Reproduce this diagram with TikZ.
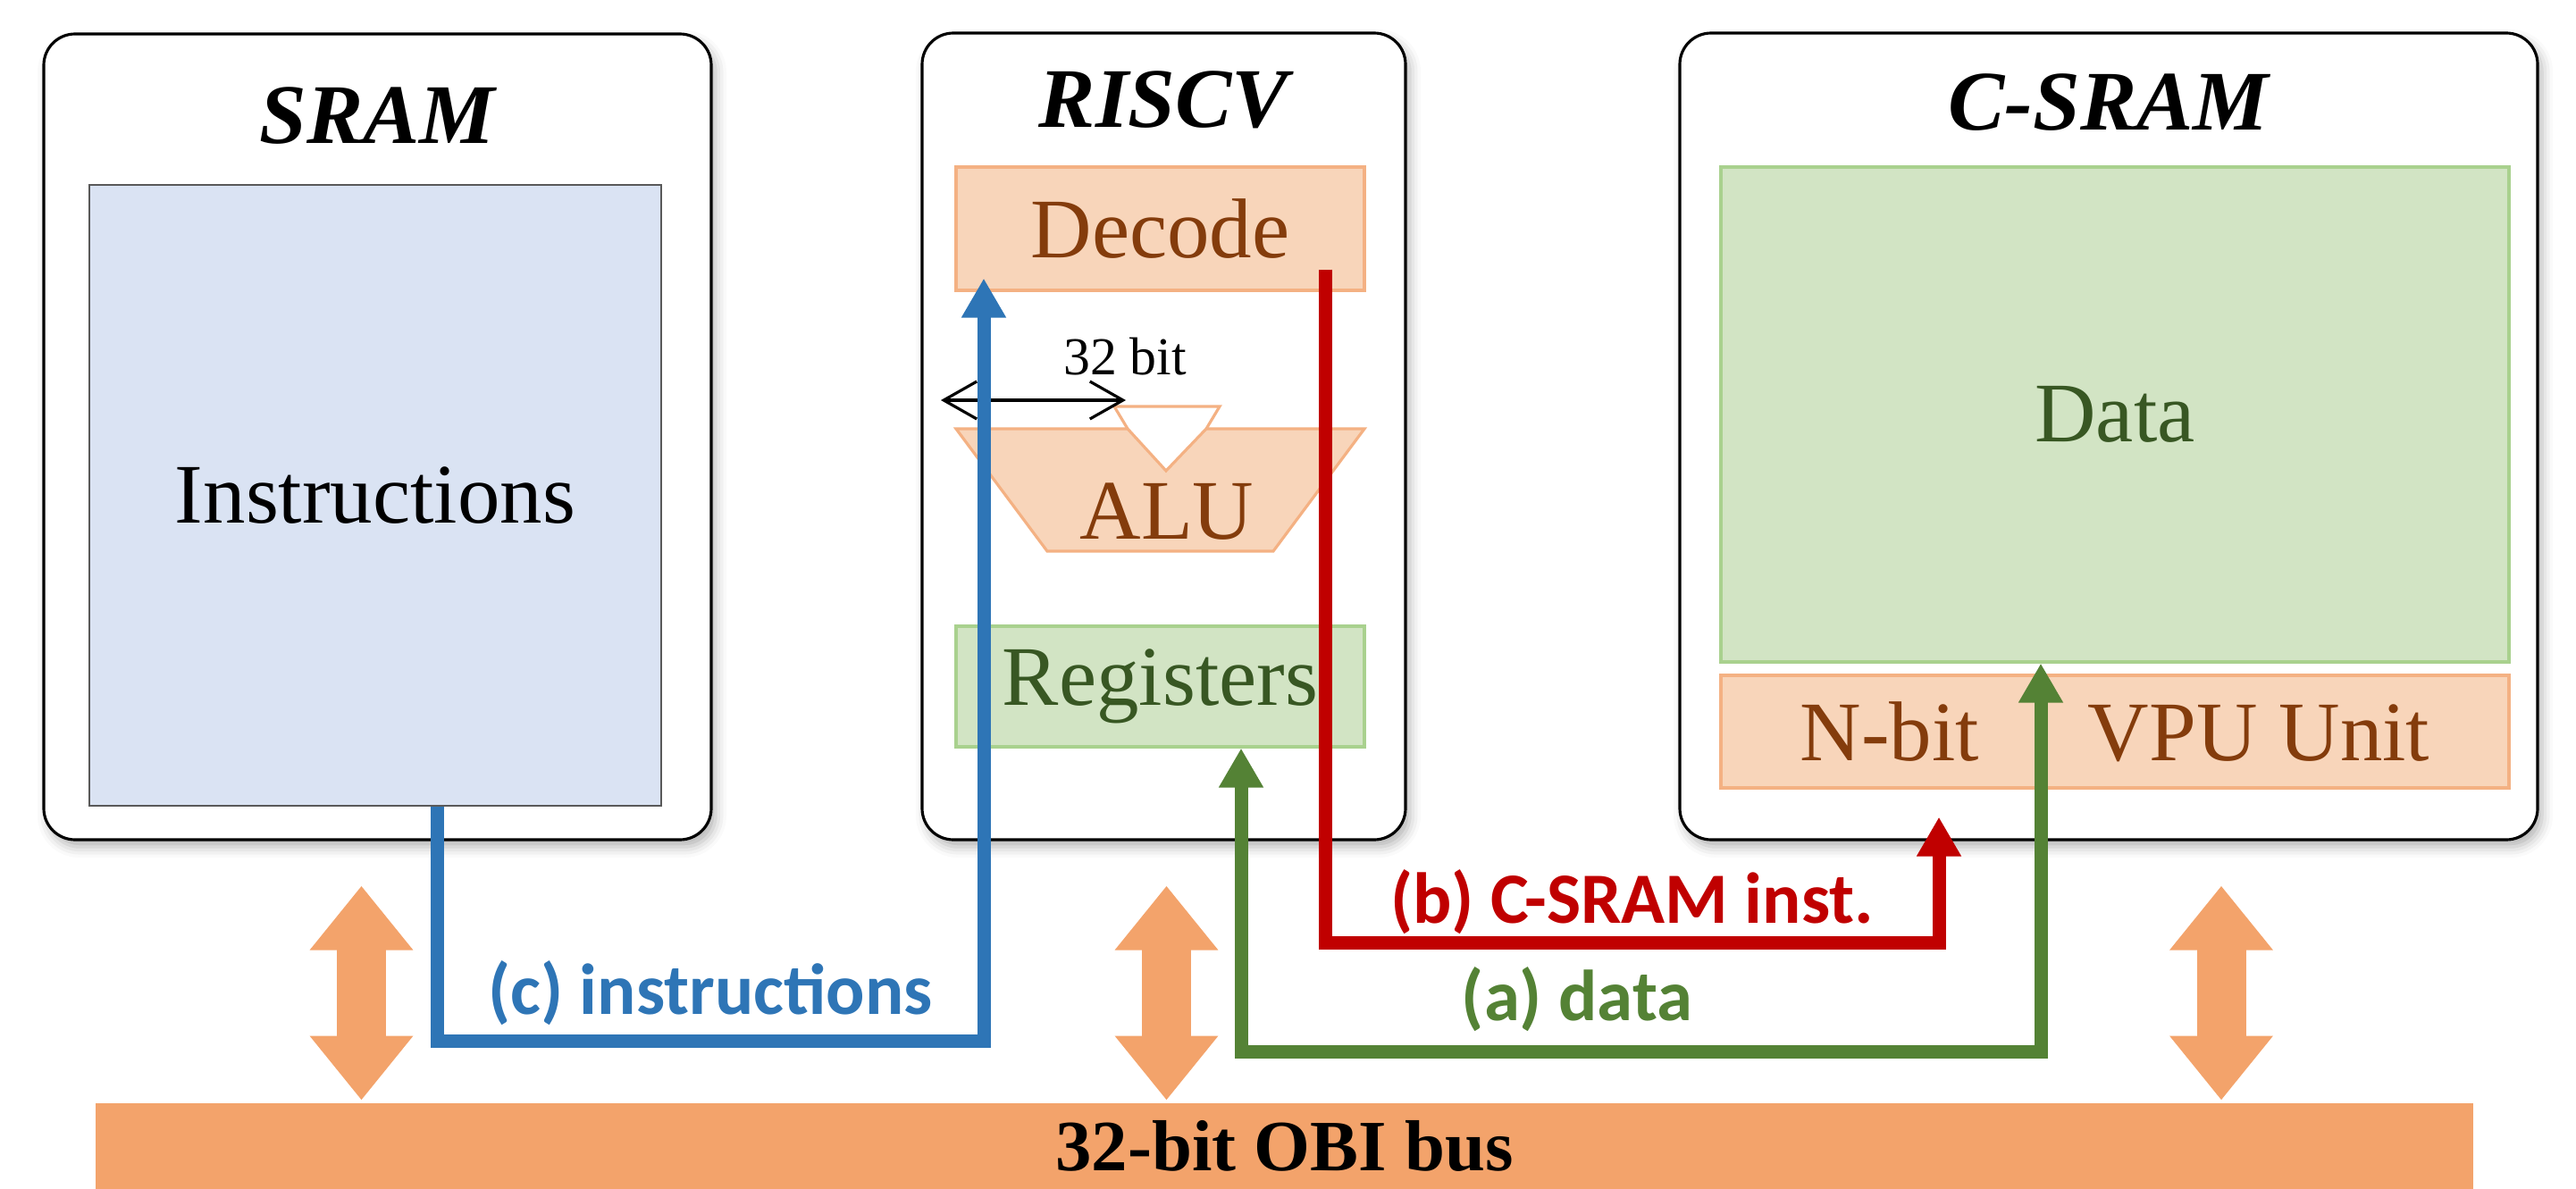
\documentclass[tikz,border=0pt]{standalone}
\usepackage{fontspec}
\setmainfont{Liberation Serif}
\newfontfamily\labelfont{Carlito}
\usepackage{xcolor}
\usepackage{tikz}
\usetikzlibrary{positioning, arrows.meta, shadows.blur}
\definecolor{BusOrange}{RGB}{243,163,107}
\definecolor{PeachFill}{RGB}{248,213,186}
\definecolor{PeachLine}{RGB}{244,177,131}
\definecolor{PeachText}{RGB}{132,60,12}
\definecolor{MintFill}{RGB}{210,228,196}
\definecolor{MintLine}{RGB}{169,209,142}
\definecolor{MintText}{RGB}{56,87,35}
\definecolor{SkyFill}{RGB}{218,227,243}
\definecolor{SkyLine}{RGB}{89,89,89}
\definecolor{FlowBlue}{RGB}{46,117,182}
\definecolor{FlowRed}{RGB}{192,0,0}
\definecolor{FlowGreen}{RGB}{84,130,53}

\tikzset{
  bigtext/.style={font=\fontsize{27}{32}\selectfont},
  chip/.style={draw=black, line width=0.9pt, rounded corners=3.5mm, fill=white,
               inner sep=0pt,
               blur shadow={shadow xshift=0.5mm, shadow yshift=-0.8mm,
                            shadow blur radius=1.2mm, shadow opacity=30}},
  chiptitle/.style={font=\fontsize{27}{32}\selectfont\bfseries\itshape,
                    anchor=base, inner sep=0pt},
  peachbox/.style={bigtext, draw=PeachLine, line width=0.9pt, fill=PeachFill,
                   text=PeachText, inner sep=0pt},
  mintbox/.style={bigtext, draw=MintLine, line width=0.9pt, fill=MintFill,
                  text=MintText, inner sep=0pt},
  flow/.style={line width=1.5mm, -{Triangle[length=4.4mm, width=4.7mm]}},
  flowlabel/.style={font=\labelfont\bfseries\fontsize{23}{28}\selectfont,
                    inner sep=0pt},
  busarrow/.style={BusOrange, line width=5.5mm,
                   {Triangle[length=7.2mm, width=11.1mm]}-{Triangle[length=7.2mm, width=11.1mm]}}
}

\begin{document}
\begin{tikzpicture}
\useasboundingbox (0,0) rectangle (28.83,-13.31);

% the three blocks
\node[chip, minimum width=7.47cm, minimum height=9.02cm] (sram) at (4.225,-4.89) {};
\node[chip, minimum width=5.41cm, minimum height=9.03cm] (riscv) at (13.025,-4.885) {};
\node[chip, minimum width=9.6cm, minimum height=9.03cm] (csram) at (23.6,-4.885) {};
\node[chiptitle] (sramtitle) at ([yshift=-1.24cm]sram.north) {SRAM};
\node[chiptitle] (riscvtitle) at ([yshift=-1.07cm]riscv.north) {RISCV};
\node[chiptitle] (csramtitle) at ([yshift=-1.1cm]csram.north) {C-SRAM};

\node[bigtext, draw=SkyLine, line width=0.8pt, fill=SkyFill, inner sep=0pt,
      minimum width=6.4cm, minimum height=6.95cm] (instr) at (4.2,-5.545) {Instructions};
\node[peachbox, minimum width=4.57cm, minimum height=1.38cm] (decode) at (12.985,-2.56) {Decode};
\node[mintbox, minimum width=4.57cm, minimum height=1.35cm] (regs) at (12.985,-7.685) {Registers};
\node[mintbox, minimum width=8.82cm, minimum height=5.54cm] (data) at (23.67,-4.64) {Data};
\node[peachbox, minimum width=8.82cm, minimum height=1.26cm] (vpu) at (23.67,-8.19)
      {N-bit\hspace{1.22cm}VPU Unit};

% ALU
\draw[PeachLine, line width=0.9pt, fill=PeachFill]
      (10.70,-4.80) -- (12.62,-4.80) -- (13.05,-5.27) -- (13.50,-4.80) --
      (15.27,-4.80) -- (14.25,-6.17) -- (11.72,-6.17) -- cycle;
\draw[PeachLine, line width=0.9pt] (12.62,-4.80) -- (12.47,-4.55) -- (13.65,-4.55) -- (13.50,-4.80);
\node[bigtext, text=PeachText, anchor=base, inner sep=0pt] (alu) at (13.06,-6.03) {ALU};

\coordinate (bitl) at (10.53,-4.48);
\coordinate (bitr) at (12.60,-4.48);
\draw[line width=0.9pt, {Straight Barb[length=3.7mm, width=4.2mm]}-{Straight Barb[length=3.7mm, width=4.2mm]}]
      (bitl) -- (bitr);
\node[font=\fontsize{17}{20}\selectfont, anchor=base, inner sep=0pt] (bitlabel) at (12.59,-4.20) {32 bit};

% bus
\node[fill=BusOrange, inner sep=0pt, minimum width=26.61cm, minimum height=0.96cm,
      font=\fontsize{23}{28}\selectfont\bfseries] (bus) at (14.375,-12.83) {32-bit OBI bus};
\foreach \blk/\dx in {sram/-0.18, riscv/0.03, csram/1.26}
  \draw[busarrow] ([xshift=\dx cm, yshift=-0.5cm]\blk.south) -- ++(0,-2.4);

% flows
\draw[flow, FlowBlue] ([xshift=0.69cm]instr.south) -- ++(0,-2.62)
      -| node[flowlabel, pos=0.25, yshift=5.4mm] (labc) {(c) instructions}
      ([xshift=-1.975cm, yshift=0.15cm]decode.south);
\draw[flow, FlowRed] ([xshift=1.845cm, yshift=0.25cm]decode.south) -- ++(0,-7.54)
      -| node[flowlabel, pos=0.25, yshift=4.6mm] (labb) {(b) C-SRAM inst.}
      ([xshift=-1.97cm, yshift=-0.31cm]vpu.south);
\draw[flow, FlowGreen, {Triangle[length=4.4mm, width=4.7mm]}-{Triangle[length=4.4mm, width=4.7mm]}]
      ([xshift=0.905cm]regs.south) -- ++(0,-3.4)
      -| node[flowlabel, pos=0.21, yshift=5.85mm] (laba) {(a) data}
      ([xshift=-0.83cm]data.south);
\end{tikzpicture}
\end{document}
